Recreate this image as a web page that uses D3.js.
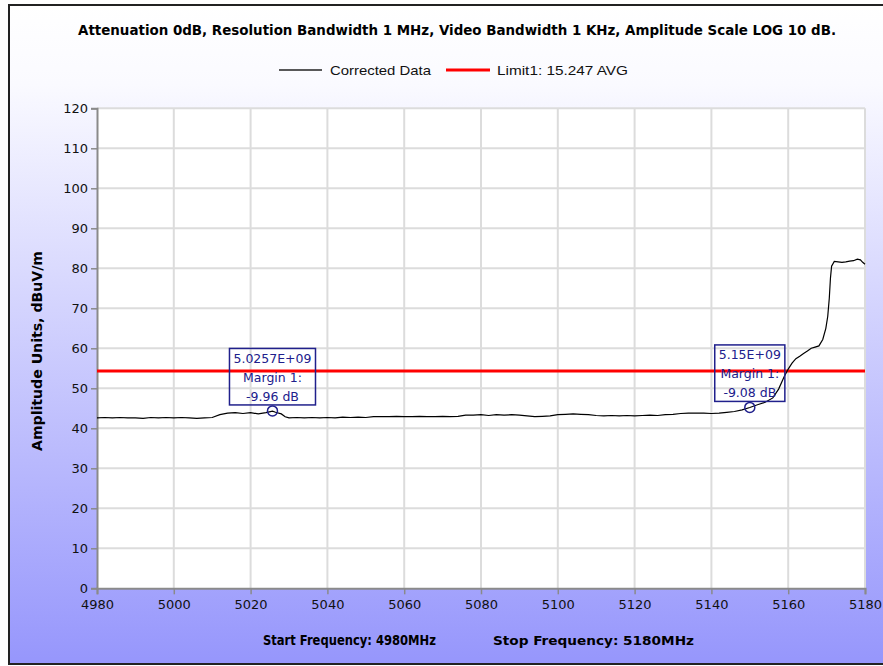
<!DOCTYPE html>
<html><head><meta charset="utf-8">
<script src="https://cdn.jsdelivr.net/npm/d3@7"></script>
<style>body{margin:0;background:#fff}svg{display:block}</style>
</head><body>
<script>
// ---- data ----
const titleText = "Attenuation 0dB, Resolution Bandwidth 1 MHz, Video Bandwidth 1 KHz, Amplitude Scale LOG 10 dB.";
const seriesNames = ["Corrected Data", "Limit1: 15.247 AVG"];
const yTicks = [0,10,20,30,40,50,60,70,80,90,100,110,120];
const xTicks = [4980,5000,5020,5040,5060,5080,5100,5120,5140,5160,5180];
const freqs = [4980,4982,4984,4986,4988,4990,4992,4994,4996,4998,5000,5002,5004,5006,5008,5010,
  5012,5014,5016,5018,5020,5022,5024,5025.7,5026.5,5028,5029,5030,5032,5034,5036,5038,5040,5042,5044,5046,5048,5050,
  5052,5054,5056,5058,5060,5062,5064,5066,5068,5070,5072,5074,5076,5078,5080,5082,5084,5086,5088,5090,
  5092,5094,5096,5098,5100,5102,5104,5106,5108,5110,5112,5114,5116,5118,5120,5122,5124,5126,5128,5130,
  5132,5134,5136,5138,5140,5142,5144,5146,5148,5150,5152,5154,5156,5157.5,5159,5160,5161,5162,5163,5164,
  5165,5166,5167,5168,5169,5169.8,5170.3,5170.7,5171,5171.3,5172,5173,5174,5175,5176,5177,5178,5178.8,5179.4,5180];
const amps = [42.6,42.7,42.6,42.7,42.6,42.6,42.5,42.7,42.6,42.7,42.6,42.7,42.6,42.5,42.6,42.7,
  43.4,43.8,43.9,43.7,43.9,43.6,43.9,44.3,44.0,43.6,42.9,42.6,42.7,42.6,42.7,42.6,42.7,42.6,42.8,42.7,42.8,42.7,
  42.9,42.9,42.9,43.0,42.9,42.9,43.0,42.9,42.9,43.0,42.9,43.0,43.3,43.3,43.4,43.2,43.4,43.3,43.4,43.3,
  43.1,42.9,43.0,43.1,43.4,43.5,43.6,43.5,43.4,43.2,43.1,43.2,43.1,43.2,43.1,43.2,43.3,43.2,43.4,43.5,
  43.7,43.8,43.8,43.8,43.7,43.8,44.0,44.2,44.6,45.2,45.9,46.5,47.6,49.8,53.0,54.8,56.3,57.4,58.0,58.7,
  59.3,60.0,60.3,60.6,62.2,65.0,68.0,72.5,77.5,80.5,81.7,81.6,81.5,81.6,81.8,81.9,82.3,82.1,81.5,81.0];
const limitValue = 54.3;
const markerFreqs = [5025.7, 5150];
const markerLabels = ["5.0257E+09", "5.15E+09"];
const markerMargins = [-9.96, -9.08];
const startLabel = "Start Frequency: 4980MHz";
const stopLabel = "Stop Frequency: 5180MHz";
const yTitle = "Amplitude Units, dBuV/m";

// ---- drawing ----
const W = 883, H = 666;
const svg = d3.select("body").append("svg").attr("width", W).attr("height", H);
const defs = svg.append("defs");
const grad = defs.append("linearGradient").attr("id","bg").attr("x1",0).attr("y1",0).attr("x2",0).attr("y2",1);
grad.append("stop").attr("offset","0%").attr("stop-color","#ffffff");
grad.append("stop").attr("offset","12%").attr("stop-color","#fafaff");
grad.append("stop").attr("offset","100%").attr("stop-color","#9696fc");

svg.append("rect").attr("x",9).attr("y",5).attr("width",890).attr("height",659)
  .attr("fill","url(#bg)").attr("stroke","#222").attr("stroke-width",2);

const x = d3.scaleLinear().domain([4980,5180]).range([97,865]);
const y = d3.scaleLinear().domain([0,120]).range([588.3,108.3]);

// plot background
svg.append("rect").attr("x",x(4980)).attr("y",y(120)).attr("width",x(5180)-x(4980)).attr("height",y(0)-y(120)).attr("fill","#ffffff");

// grid
const grid = svg.append("g").attr("stroke","#dcdcdc").attr("stroke-width",2);
grid.selectAll(".gy").data(yTicks.slice(1)).join("line")
  .attr("x1",x(4980)).attr("x2",x(5180)).attr("y1",d=>y(d)).attr("y2",d=>y(d));
grid.selectAll(".gx").data(xTicks.slice(1)).join("line")
  .attr("y1",y(0)).attr("y2",y(120)).attr("x1",d=>x(d)).attr("x2",d=>x(d));

// axes
const fontTick = "DejaVu Sans, Verdana, sans-serif";
const yAxis = svg.append("g").attr("transform",`translate(${x(4980)},0)`)
  .call(d3.axisLeft(y).tickValues(yTicks).tickSize(6).tickPadding(3).tickFormat(d3.format("d")));
const xAxis = svg.append("g").attr("transform",`translate(0,${y(0)})`)
  .call(d3.axisBottom(x).tickValues(xTicks).tickSize(6).tickPadding(5).tickFormat(d3.format("d")));
[yAxis,xAxis].forEach(a=>{
  a.select(".domain").attr("stroke","#8a8a8a").attr("stroke-width",2);
  a.selectAll(".tick line").attr("stroke","#8a8a8a").attr("stroke-width",1.5);
  a.selectAll(".tick text").attr("fill","#111").attr("font-family",fontTick).attr("font-size",13);
});

// limit line
svg.append("line").attr("x1",x(4980)).attr("x2",x(5180)).attr("y1",y(limitValue)).attr("y2",y(limitValue))
  .attr("stroke","#ff0000").attr("stroke-width",3);

// trace
const pts = freqs.map((f,i)=>[f,amps[i]]);
svg.append("path").datum(pts)
  .attr("d", d3.line().x(d=>x(d[0])).y(d=>y(d[1])))
  .attr("fill","none").attr("stroke","#000").attr("stroke-width",1.2);

// markers & annotation boxes
const navy = "#20208c";
markerFreqs.forEach((f,i)=>{
  const mv = limitValue + markerMargins[i];
  const cx = x(f), cy = y(mv);
  svg.append("circle").attr("cx",cx).attr("cy",cy).attr("r",5).attr("fill","none").attr("stroke",navy).attr("stroke-width",1.5);
  const g = svg.append("g");
  const lines = [markerLabels[i], "Margin 1:", markerMargins[i].toFixed(2)+" dB"];
  const top = cy - 62.5;
  const texts = lines.map((t,k)=> g.append("text").attr("x",cx).attr("y",top+14.5+k*19)
    .attr("text-anchor","middle").attr("font-family",fontTick).attr("font-size",12.5).attr("fill",navy).text(t));
  const wmax = d3.max(texts, t=>t.node().getComputedTextLength());
  g.insert("rect","text").attr("x",cx-wmax/2-4).attr("y",top).attr("width",wmax+8).attr("height",56.5)
    .attr("fill","none").attr("stroke",navy).attr("stroke-width",1.5);
});

// title
svg.append("text").attr("x",457).attr("y",35).attr("text-anchor","middle")
  .attr("font-family","DejaVu Sans Condensed, DejaVu Sans, sans-serif").attr("font-weight","bold").attr("font-size",13.5)
  .attr("textLength",758).attr("lengthAdjust","spacingAndGlyphs")
  .attr("fill","#000").text(titleText);

// legend
svg.append("line").attr("x1",279).attr("x2",322).attr("y1",70).attr("y2",70).attr("stroke","#222").attr("stroke-width",1.5);
svg.append("text").attr("x",330).attr("y",75).attr("font-family","Liberation Sans, Arial, sans-serif").attr("font-size",13)
  .attr("textLength",101).attr("lengthAdjust","spacingAndGlyphs").attr("fill","#111").text(seriesNames[0]);
svg.append("line").attr("x1",446).attr("x2",490).attr("y1",70).attr("y2",70).attr("stroke","#ff0000").attr("stroke-width",3);
svg.append("text").attr("x",497).attr("y",75).attr("font-family","Liberation Sans, Arial, sans-serif").attr("font-size",13)
  .attr("textLength",131).attr("lengthAdjust","spacingAndGlyphs").attr("fill","#111").text(seriesNames[1]);

// y title
svg.append("text").attr("transform","translate(42,351) rotate(-90)").attr("text-anchor","middle")
  .attr("font-family","DejaVu Sans Condensed, DejaVu Sans, sans-serif").attr("font-weight","bold").attr("font-size",13.5)
  .attr("textLength",200).attr("lengthAdjust","spacingAndGlyphs").attr("fill","#000").text(yTitle);

// bottom labels
svg.append("text").attr("x",263).attr("y",645)
  .attr("font-family","DejaVu Sans Condensed, DejaVu Sans, sans-serif").attr("font-weight","bold").attr("font-size",13.5)
  .attr("textLength",173).attr("lengthAdjust","spacingAndGlyphs").attr("fill","#000").text(startLabel);
svg.append("text").attr("x",493).attr("y",645)
  .attr("font-family","DejaVu Sans Condensed, DejaVu Sans, sans-serif").attr("font-weight","bold").attr("font-size",13)
  .attr("textLength",201).attr("lengthAdjust","spacingAndGlyphs").attr("fill","#000").text(stopLabel);
</script>
</body></html>
